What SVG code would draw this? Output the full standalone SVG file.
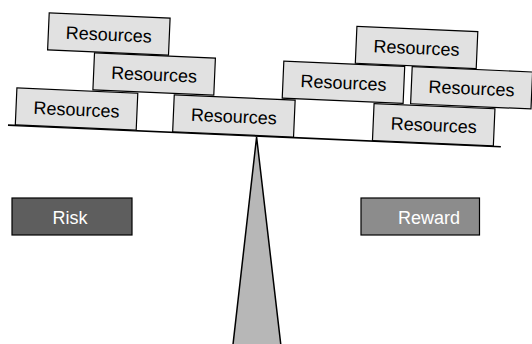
<svg xmlns="http://www.w3.org/2000/svg" width="532" height="344" viewBox="0 0 532 344">
<style>
.res rect{fill:#e1e1e1;stroke:#000;stroke-width:1.2}
.res text{font-family:"Liberation Sans",Arial,sans-serif;font-size:18px;fill:#000;text-anchor:middle}
.lbl text{font-family:"Liberation Sans",Arial,sans-serif;font-size:18px;fill:#fff;text-anchor:middle}
.lbl rect{stroke:#000;stroke-width:1.2}
</style>
<rect width="532" height="344" fill="#fff"/>
<g id="fulcrum">
<polygon points="256.6,137 232.6,348 281.2,348" fill="#b7b7b7" stroke="#000" stroke-width="1.5"/>
</g>
<g id="scale" transform="translate(256,137) rotate(2.5)">
<g id="beam"><line x1="-248.3" y1="-1" x2="245" y2="-1" stroke="#000" stroke-width="1.6"/></g>
<g id="res-c" class="res"><rect x="-241" y="-38.6" width="121" height="37"/><text x="-180.5" y="-13.4">Resources</text></g>
<g id="res-d" class="res"><rect x="-83.5" y="-38.6" width="121" height="37"/><text x="-23" y="-13.4">Resources</text></g>
<g id="res-h" class="res"><rect x="116.5" y="-38.6" width="121" height="37"/><text x="177" y="-13.4">Resources</text></g>
<g id="res-b" class="res"><rect x="-165" y="-77" width="121" height="37"/><text x="-104.5" y="-51.8">Resources</text></g>
<g id="res-f" class="res"><rect x="24.5" y="-77" width="121" height="37"/><text x="85" y="-51.8">Resources</text></g>
<g id="res-g" class="res"><rect x="153" y="-77" width="120.5" height="37"/><text x="213.3" y="-51.8">Resources</text></g>
<g id="res-a" class="res"><rect x="-212" y="-115" width="121" height="37"/><text x="-151.5" y="-89.8">Resources</text></g>
<g id="res-e" class="res"><rect x="96" y="-115" width="121" height="37"/><text x="156.5" y="-89.8">Resources</text></g>
</g>
<g id="risk" class="lbl"><rect x="12" y="198" width="120" height="37" fill="#5e5e5e"/><text x="70" y="223.5">Risk</text></g>
<g id="reward" class="lbl"><rect x="361" y="198" width="118.5" height="37" fill="#8c8c8c"/><text x="429" y="223.5">Reward</text></g>
<g id="connectors"></g>
</svg>
